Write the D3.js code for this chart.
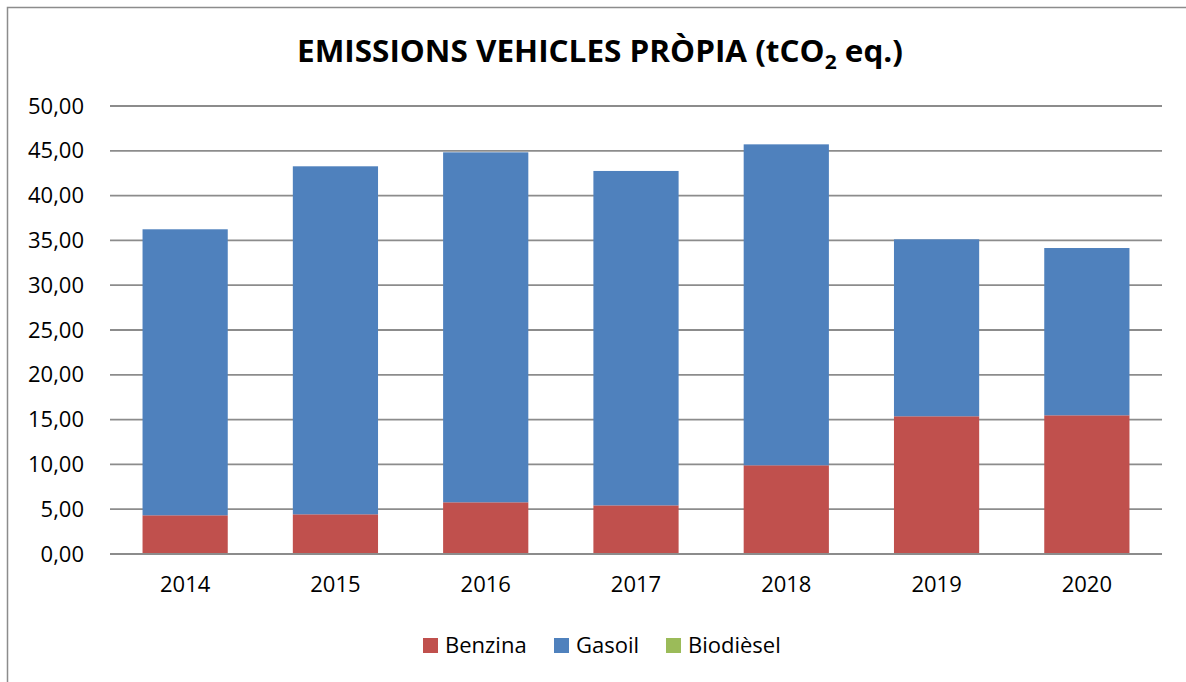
<!DOCTYPE html>
<html>
<head>
<meta charset="utf-8">
<script src="https://cdn.jsdelivr.net/npm/d3@7"></script>
<style>
  body { margin: 0; background: #fff; }
  text { font-family: "Open Sans", sans-serif; fill: #000; }
</style>
</head>
<body>
<div id="chart"></div>
<script>
// data
var years = ["2014", "2015", "2016", "2017", "2018", "2019", "2020"];
var benzina = [4.32, 4.43, 5.77, 5.43, 9.90, 15.37, 15.48];
var gasoil = [31.92, 38.84, 39.06, 37.32, 35.82, 19.75, 18.67];
var biodiesel = [0, 0, 0, 0, 0, 0, 0];
var seriesNames = ["Benzina", "Gasoil", "Biodièsel"];
var yTicks = [0, 5, 10, 15, 20, 25, 30, 35, 40, 45, 50];

var colors = ["#C0504D", "#4F81BD", "#9BBB59"];

var svgWidth = 1186;
var svgHeight = 682;

var svg = d3.select("#chart")
  .append("svg")
  .attr("width", svgWidth)
  .attr("height", svgHeight);

// chart border
svg.append("rect")
  .attr("x", 7.5)
  .attr("y", 7.5)
  .attr("width", 1200)
  .attr("height", 700)
  .attr("fill", "none")
  .attr("stroke", "#8c8c8c")
  .attr("stroke-width", 1.5);

// title with subscript
var title = svg.append("text")
  .attr("x", 600)
  .attr("y", 62)
  .attr("text-anchor", "middle")
  .attr("font-size", "30px")
  .attr("font-weight", "bold")
  .attr("textLength", 606)
  .attr("lengthAdjust", "spacingAndGlyphs");
title.append("tspan").text("EMISSIONS VEHICLES PRÒPIA (tCO");
title.append("tspan").attr("font-size", "20px").attr("dy", 7).text("2");
title.append("tspan").attr("dy", -7).text(" eq.)");

// scales
var xScale = d3.scaleBand()
  .domain(years)
  .range([110, 1162])
  .paddingInner(0.433)
  .paddingOuter(0.2165);

var yScale = d3.scaleLinear()
  .domain([0, 50])
  .range([554, 106]);

// gridlines
svg.append("g")
  .selectAll("line")
  .data(yTicks)
  .enter()
  .append("line")
  .attr("x1", 110)
  .attr("x2", 1162)
  .attr("y1", d => yScale(d))
  .attr("y2", d => yScale(d))
  .attr("stroke", "#8c8c8c")
  .attr("stroke-width", 1.8);

// y axis labels
var leftAxis = d3.axisLeft(yScale)
  .tickValues(yTicks)
  .tickSize(0)
  .tickPadding(26)
  .tickFormat(d => d3.format(".2f")(d).replace(".", ","));

var yAxis = svg.append("g")
  .attr("transform", "translate(110,0)")
  .call(leftAxis);
yAxis.select(".domain").remove();
yAxis.selectAll("text")
  .attr("font-size", "22px")
  .attr("font-family", "Open Sans, sans-serif")
  .attr("fill", "#000");

// stacked bars
var table = years.map(function(y, i) {
  return { year: y, Benzina: benzina[i], Gasoil: gasoil[i], "Biodièsel": biodiesel[i] };
});
var stacked = d3.stack().keys(seriesNames)(table);

svg.append("g")
  .selectAll("g")
  .data(stacked)
  .enter()
  .append("g")
  .attr("fill", (d, i) => colors[i])
  .selectAll("rect")
  .data(d => d)
  .enter()
  .append("rect")
  .attr("x", d => xScale(d.data.year))
  .attr("width", xScale.bandwidth())
  .attr("y", d => yScale(d[1]))
  .attr("height", d => yScale(d[0]) - yScale(d[1]));

// baseline on top of bars
svg.append("line")
  .attr("x1", 110)
  .attr("x2", 1162)
  .attr("y1", yScale(0))
  .attr("y2", yScale(0))
  .attr("stroke", "#8c8c8c")
  .attr("stroke-width", 1.8);

// x axis labels
var bottomAxis = d3.axisBottom(xScale)
  .tickSize(0)
  .tickPadding(22);

var xAxis = svg.append("g")
  .attr("transform", `translate(0, ${yScale(0)})`)
  .call(bottomAxis);
xAxis.select(".domain").remove();
xAxis.selectAll("text")
  .attr("font-size", "22px")
  .attr("font-family", "Open Sans, sans-serif")
  .attr("fill", "#000");

// legend
var legendX = [423, 554, 666];
var legend = svg.append("g")
  .selectAll("g")
  .data(seriesNames)
  .enter()
  .append("g")
  .attr("transform", (d, i) => `translate(${legendX[i]}, 638)`);

legend.append("rect")
  .attr("width", 15)
  .attr("height", 15)
  .attr("fill", (d, i) => colors[i]);

legend.append("text")
  .attr("x", 22)
  .attr("y", 15)
  .attr("font-size", "22px")
  .text(d => d);
</script>
</body>
</html>
